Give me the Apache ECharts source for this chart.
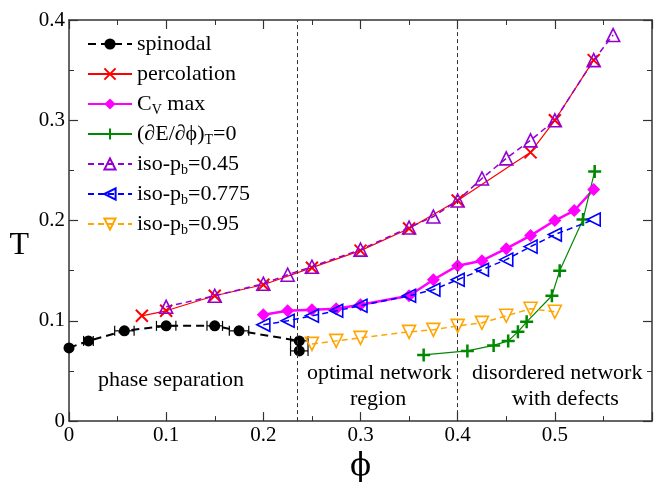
<!DOCTYPE html>
<html>
<head>
<meta charset="utf-8">
<script src="https://cdn.jsdelivr.net/npm/echarts@6/dist/echarts.min.js"></script>
<style>html,body{margin:0;padding:0;background:#fff}#c{width:655px;height:487px}</style>
</head>
<body>
<div id="c"></div>
<script>
// ---- data ----
var xTickLabels = ['0', '0.1', '0.2', '0.3', '0.4', '0.5', ''];
var yTickLabels = ['0', '0.1', '0.2', '0.3', '0.4'];
var seriesNames = ['spinodal', 'percolation', 'CV max', 'dEdphi', 'iso-pb=0.45', 'iso-pb=0.775', 'iso-pb=0.95'];

var spinodalX = [0, 0.02, 0.057, 0.1, 0.15, 0.175, 0.237, 0.237];
var spinodalY = [0.073, 0.080, 0.090, 0.095, 0.095, 0.090, 0.080, 0.070];
var spinodalXErr = [0, 0.005, 0.010, 0.010, 0.008, 0.010, 0.009, 0.009];

var percX = [0.075, 0.1, 0.15, 0.2, 0.25, 0.3, 0.35, 0.4, 0.475, 0.5, 0.54];
var percY = [0.105, 0.110, 0.125, 0.136, 0.153, 0.170, 0.192, 0.220, 0.268, 0.300, 0.360];

var cvX = [0.2, 0.225, 0.25, 0.275, 0.3, 0.35, 0.375, 0.4, 0.425, 0.45, 0.475, 0.5, 0.52, 0.54];
var cvY = [0.106, 0.110, 0.111, 0.112, 0.116, 0.125, 0.141, 0.155, 0.160, 0.172, 0.185, 0.200, 0.210, 0.231];

var dEX = [0.365, 0.41, 0.437, 0.452, 0.462, 0.471, 0.497, 0.505, 0.529, 0.541];
var dEY = [0.066, 0.070, 0.0755, 0.080, 0.089, 0.099, 0.125, 0.150, 0.201, 0.249];

var iso45X = [0.1, 0.15, 0.2, 0.225, 0.25, 0.3, 0.35, 0.375, 0.4, 0.425, 0.45, 0.475, 0.5, 0.54, 0.56];
var iso45Y = [0.114, 0.125, 0.137, 0.146, 0.154, 0.171, 0.193, 0.204, 0.220, 0.242, 0.262, 0.280, 0.300, 0.360, 0.385];

var iso775X = [0.2, 0.225, 0.25, 0.275, 0.3, 0.35, 0.375, 0.4, 0.425, 0.45, 0.475, 0.5, 0.54];
var iso775Y = [0.096, 0.100, 0.105, 0.110, 0.115, 0.125, 0.131, 0.141, 0.151, 0.161, 0.174, 0.186, 0.201];

var iso95X = [0.25, 0.275, 0.3, 0.35, 0.375, 0.4, 0.425, 0.45, 0.475, 0.5];
var iso95Y = [0.077, 0.080, 0.083, 0.089, 0.091, 0.095, 0.098, 0.105, 0.112, 0.109];

var regionBounds = [0.235, 0.4];

// ---- helpers ----
function pairs(xs, ys) { return xs.map(function (x, i) { return [x, ys[i]]; }); }
var FONT = 'Liberation Serif';
var legendRich = {
  'spinodal': 'spinodal',
  'percolation': 'percolation',
  'CV max': 'C{s|V} max',
  'dEdphi': '(∂E/∂ϕ){s|T}=0',
  'iso-pb=0.45': 'iso-p{s|b}=0.45',
  'iso-pb=0.775': 'iso-p{s|b}=0.775',
  'iso-pb=0.95': 'iso-p{s|b}=0.95'
};

var axisCommon = {
  type: 'value',
  axisLine: { show: true, onZero: false, lineStyle: { color: '#333', width: 1.5 } },
  splitLine: { show: false },
  minorTick: { show: true, splitNumber: 2, length: 5, lineStyle: { color: '#333', width: 1 } },
  axisTick: { show: true, inside: true, length: 9, lineStyle: { color: '#333', width: 1.2 } }
};
function merge(a, b) { var o = JSON.parse(JSON.stringify(a)); for (var k in b) o[k] = b[k]; return o; }

var hollow = 'rgba(255,255,255,0)';

var option = {
  animation: false,
  backgroundColor: '#fff',
  grid: { left: 69, right: 2, top: 20, bottom: 58 },
  legend: {
    orient: 'vertical',
    left: 82,
    top: 26,
    itemWidth: 44,
    itemHeight: 14,
    itemGap: 4,
    data: seriesNames,
    formatter: function (n) { return legendRich[n]; },
    textStyle: {
      fontFamily: FONT, fontSize: 22, color: '#000', lineHeight: 26,
      rich: { s: { fontFamily: FONT, fontSize: 14, color: '#000', verticalAlign: 'bottom', lineHeight: 26 } }
    }
  },
  xAxis: [
    merge(axisCommon, {
      min: 0, max: 0.6, interval: 0.1, position: 'bottom',
      name: 'ϕ', nameLocation: 'middle', nameGap: 27,
      nameTextStyle: { fontFamily: 'DejaVu Serif', fontSize: 31, color: '#000' },
      axisLabel: {
        fontFamily: FONT, fontSize: 21, color: '#000', margin: 4,
        formatter: function (v) { return xTickLabels[Math.round(v / 0.1)] || ''; }
      }
    }),
    merge(axisCommon, { min: 0, max: 0.6, interval: 0.1, position: 'top', axisLabel: { show: false } })
  ],
  yAxis: [
    merge(axisCommon, {
      min: 0, max: 0.4, interval: 0.1, position: 'left',
      name: 'T', nameLocation: 'middle', nameGap: 40, nameRotate: 0,
      nameTextStyle: { fontFamily: FONT, fontSize: 32, color: '#000', verticalAlign: 'top', padding: [9, 0, 0, 0] },
      axisLabel: {
        fontFamily: FONT, fontSize: 21, color: '#000', margin: 4,
        formatter: function (v) { return yTickLabels[Math.round(v / 0.1)]; }
      }
    }),
    merge(axisCommon, { min: 0, max: 0.4, interval: 0.1, position: 'right', axisLabel: { show: false } })
  ],
  graphic: [
    { type: 'text', left: 98, top: 369, style: { text: 'phase separation', font: '22px "Liberation Serif"', fill: '#000' } },
    { type: 'text', left: 307, top: 362, style: { text: 'optimal network', font: '22px "Liberation Serif"', fill: '#000' } },
    { type: 'text', left: 350, top: 388, style: { text: 'region', font: '22px "Liberation Serif"', fill: '#000' } },
    { type: 'text', left: 472, top: 362, style: { text: 'disordered network', font: '22px "Liberation Serif"', fill: '#000' } },
    { type: 'text', left: 512, top: 388, style: { text: 'with defects', font: '22px "Liberation Serif"', fill: '#000' } }
  ],
  series: [
    {
      name: 'spinodal', type: 'line', data: pairs(spinodalX, spinodalY),
      symbol: 'circle', symbolSize: 11,
      itemStyle: { color: '#000' },
      lineStyle: { color: '#000', width: 2, type: [8, 5] },
      markLine: {
        silent: true, symbol: 'none', label: { show: false }, precision: 4,
        lineStyle: { color: '#333', width: 1, type: [4, 3] },
        data: regionBounds.map(function (b) { return { xAxis: b }; })
      },
      z: 3
    },
    {
      name: 'spinodal-err', type: 'custom',
      data: spinodalX.map(function (x, i) { return [x, spinodalY[i], spinodalXErr[i]]; }),
      renderItem: function (params, api) {
        var x = api.value(0), y = api.value(1), e = api.value(2);
        if (!e) return null;
        var p1 = api.coord([x - e, y]), p2 = api.coord([x + e, y]);
        var st = { stroke: '#000', lineWidth: 1.2 };
        return {
          type: 'group', children: [
            { type: 'line', shape: { x1: p1[0], y1: p1[1], x2: p2[0], y2: p2[1] }, style: st },
            { type: 'line', shape: { x1: p1[0], y1: p1[1] - 5, x2: p1[0], y2: p1[1] + 5 }, style: st },
            { type: 'line', shape: { x1: p2[0], y1: p2[1] - 5, x2: p2[0], y2: p2[1] + 5 }, style: st }
          ]
        };
      },
      z: 2
    },
    {
      name: 'percolation', type: 'line', data: pairs(percX, percY),
      symbol: 'path://M0,0L10,10M10,0L0,10', symbolSize: 12,
      itemStyle: { color: '#ff0000', borderColor: '#ff0000', borderWidth: 2 },
      lineStyle: { color: '#ff0000', width: 1.2 },
      z: 4
    },
    {
      name: 'CV max', type: 'line', data: pairs(cvX, cvY),
      symbol: 'diamond', symbolSize: 13,
      itemStyle: { color: '#ff00ff' },
      lineStyle: { color: '#ff00ff', width: 2.5 },
      z: 4
    },
    {
      name: 'dEdphi', type: 'line', data: pairs(dEX, dEY),
      symbol: 'path://M5,0L5,10M0,5L10,5', symbolSize: 13,
      itemStyle: { color: '#008800', borderColor: '#008800', borderWidth: 2.5 },
      lineStyle: { color: '#008800', width: 1.2 },
      z: 4
    },
    {
      name: 'iso-pb=0.45', type: 'line', data: pairs(iso45X, iso45Y),
      symbol: 'triangle', symbolSize: 13,
      itemStyle: { color: hollow, borderColor: '#9400d3', borderWidth: 1.6 },
      lineStyle: { color: '#9400d3', width: 1.5, type: [6, 4] },
      z: 5
    },
    {
      name: 'iso-pb=0.775', type: 'line', data: pairs(iso775X, iso775Y),
      symbol: 'triangle', symbolSize: 13, symbolRotate: 90,
      itemStyle: { color: hollow, borderColor: '#0000ff', borderWidth: 1.6 },
      lineStyle: { color: '#0000ff', width: 1.5, type: [6, 4] },
      z: 5
    },
    {
      name: 'iso-pb=0.95', type: 'line', data: pairs(iso95X, iso95Y),
      symbol: 'triangle', symbolSize: 13, symbolRotate: 180,
      itemStyle: { color: hollow, borderColor: '#ffa500', borderWidth: 1.6 },
      lineStyle: { color: '#ffa500', width: 1.5, type: [6, 4] },
      z: 5
    }
  ]
};
var chart = echarts.init(document.getElementById('c'), null, { renderer: 'canvas' });
chart.setOption(option);
</script>
</body>
</html>
